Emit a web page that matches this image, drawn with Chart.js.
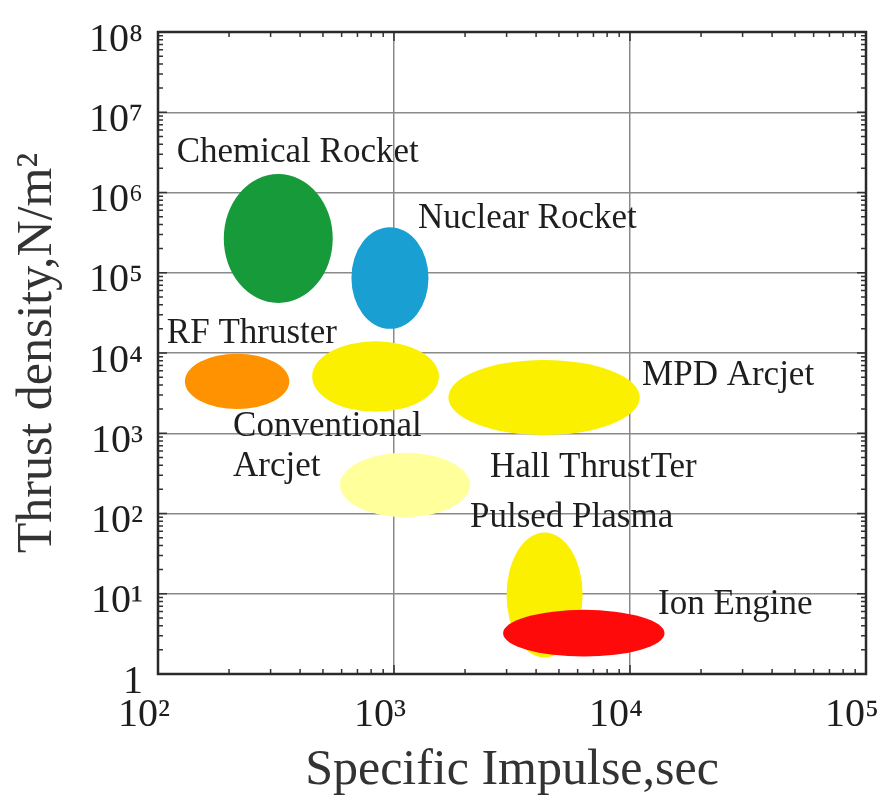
<!DOCTYPE html>
<html>
<head>
<meta charset="utf-8">
<script src="https://cdn.jsdelivr.net/npm/chart.js@4.4.1/dist/chart.umd.min.js"></script>
<style>
  html, body { margin: 0; padding: 0; background: #fff; }
  canvas { display: block; }
</style>
</head>
<body>
<canvas id="thrustChart" width="887" height="802"></canvas>
<script>
// operating regions: specific impulse (s) and thrust density (N/m^2) extents
const regions = ['Chemical Rocket', 'Nuclear Rocket', 'RF Thruster', 'Conventional Arcjet',
                 'MPD Arcjet', 'Hall Thruster', 'Pulsed Plasma', 'Ion Engine'];
const ispLow     = [190, 660, 130, 450, 1700, 590, 3000, 2900];
const ispHigh    = [550, 1400, 360, 1550, 11000, 2100, 6300, 14000];
const thrustLow  = [4.2e4, 2.0e4, 2.0e3, 1.85e3, 950, 90, 1.6, 1.65];
const thrustHigh = [1.7e6, 3.7e5, 9.8e3, 1.4e4, 8200, 570, 58, 6.3];
const regionColors = ['#169a3a', '#199fd2', '#ff9200', '#faf000', '#faf000', '#ffff9c', '#faf000', '#ff0a0a'];

const xTicks = [1e2, 1e3, 1e4, 1e5];
const yTicks = [1, 1e1, 1e2, 1e3, 1e4, 1e5, 1e6, 1e7, 1e8];

// annotation text as printed, anchored at left edge / middle
const labelText   = ['Chemical Rocket', 'Nuclear Rocket', 'RF Thruster', 'MPD Arcjet',
                     'Conventional', 'Arcjet', 'Hall ThrustTer', 'Pulsed Plasma', 'Ion Engine'];
const labelIsp    = [120, 1265, 109, 11250, 208, 208, 2553, 2099, 13150];
const labelThrust = [3.1e6, 4.7e5, 1.73e4, 5200, 1200, 383, 372, 89, 7.3];

const SERIF = '"Liberation Serif", "Times New Roman", serif';
const SUP = {'0': '⁰', '1': '¹', '2': '²', '3': '³', '4': '⁴', '5': '⁵', '6': '⁶', '7': '⁷', '8': '⁸', '9': '⁹'};

function powLabel(v) {
    const e = Math.round(Math.log10(v));
    if (e === 0) return '1';
    return '10' + String(e).split('').map(d => SUP[d]).join('');
}

const ellipses = {
    id: 'ellipses',
    beforeDatasetsDraw(chart) {
        const ctx = chart.ctx;
        ctx.save();
        chart.data.datasets.forEach((ds, i) => {
            const p = chart.getDatasetMeta(i).data;
            const cx = (p[0].x + p[1].x) / 2, cy = (p[0].y + p[1].y) / 2;
            ctx.beginPath();
            ctx.ellipse(cx, cy, Math.abs(p[1].x - p[0].x) / 2, Math.abs(p[1].y - p[0].y) / 2, 0, 0, Math.PI * 2);
            ctx.fillStyle = ds.backgroundColor;
            ctx.fill();
        });
        ctx.restore();
    }
};

const labels = {
    id: 'labels',
    afterDatasetsDraw(chart) {
        const { ctx, scales: { x, y } } = chart;
        ctx.save();
        ctx.font = '35px ' + SERIF;
        ctx.fillStyle = '#1e1e1e';
        ctx.textBaseline = 'middle';
        ctx.textAlign = 'left';
        labelText.forEach((t, i) => {
            ctx.fillText(t, x.getPixelForValue(labelIsp[i]), y.getPixelForValue(labelThrust[i]));
        });
        ctx.restore();
    }
};

// box frame with inward ticks on all four sides
const frame = {
    id: 'frame',
    afterDraw(chart) {
        const { ctx, chartArea: a, scales: { x, y } } = chart;
        ctx.save();
        ctx.strokeStyle = '#333';
        ctx.lineWidth = 1.5;
        ctx.beginPath();
        for (let e = 2; e < 5; e++) {
            for (let m = 1; m <= 9; m++) {
                const px = x.getPixelForValue(m * Math.pow(10, e));
                const len = m === 1 ? 9 : 5;
                ctx.moveTo(px, a.bottom); ctx.lineTo(px, a.bottom - len);
                ctx.moveTo(px, a.top); ctx.lineTo(px, a.top + len);
            }
        }
        for (let e = 0; e < 8; e++) {
            for (let m = 1; m <= 9; m++) {
                const py = y.getPixelForValue(m * Math.pow(10, e));
                const len = m === 1 ? 9 : 5;
                ctx.moveTo(a.left, py); ctx.lineTo(a.left + len, py);
                ctx.moveTo(a.right, py); ctx.lineTo(a.right - len, py);
            }
        }
        ctx.stroke();
        ctx.lineWidth = 2.5;
        ctx.strokeStyle = '#2a2a2a';
        ctx.strokeRect(a.left, a.top, a.right - a.left, a.bottom - a.top);
        ctx.restore();
    }
};

const datasets = regions.map((name, i) => ({
    label: name,
    data: [{ x: ispLow[i], y: thrustLow[i] }, { x: ispHigh[i], y: thrustHigh[i] }],
    backgroundColor: regionColors[i],
    pointRadius: 0,
    showLine: false
}));

new Chart(document.getElementById('thrustChart'), {
    type: 'scatter',
    data: { datasets },
    options: {
        responsive: false,
        animation: false,
        devicePixelRatio: 1,
        layout: { padding: { left: 0, top: 32, right: 21, bottom: 0 } },
        plugins: { legend: { display: false }, tooltip: { enabled: false } },
        scales: {
            x: {
                type: 'logarithmic',
                min: 1e2,
                max: 1e5,
                afterBuildTicks: s => { s.ticks = xTicks.map(v => ({ value: v })); },
                afterFit: s => { s.height = 128; s.paddingLeft = 0; s.paddingRight = 0; },
                grid: { color: '#8a8a8a', lineWidth: 1.5, drawTicks: false },
                border: { display: false },
                ticks: {
                    callback: v => powLabel(v),
                    autoSkip: false,
                    maxRotation: 0,
                    padding: 17,
                    labelOffset: -14,
                    color: '#1e1e1e',
                    font: { family: SERIF, size: 40 }
                },
                title: {
                    display: true,
                    text: 'Specific Impulse,sec',
                    color: '#333',
                    font: { family: SERIF, size: 50 },
                    padding: { top: 0, bottom: 1 }
                }
            },
            y: {
                type: 'logarithmic',
                min: 1,
                max: 1e8,
                afterBuildTicks: s => { s.ticks = yTicks.map(v => ({ value: v })); },
                afterFit: s => { s.width = 158; s.paddingTop = 0; s.paddingBottom = 0; },
                grid: { color: '#8a8a8a', lineWidth: 1.5, drawTicks: false },
                border: { display: false },
                ticks: {
                    callback: v => powLabel(v),
                    autoSkip: false,
                    padding: 15,
                    labelOffset: 8,
                    color: '#1e1e1e',
                    font: { family: SERIF, size: 40 }
                },
                title: {
                    display: true,
                    text: 'Thrust density,N/m²',
                    color: '#333',
                    font: { family: SERIF, size: 50 },
                    padding: { top: 8, bottom: 0 }
                }
            }
        }
    },
    plugins: [ellipses, labels, frame]
});
</script>
</body>
</html>
